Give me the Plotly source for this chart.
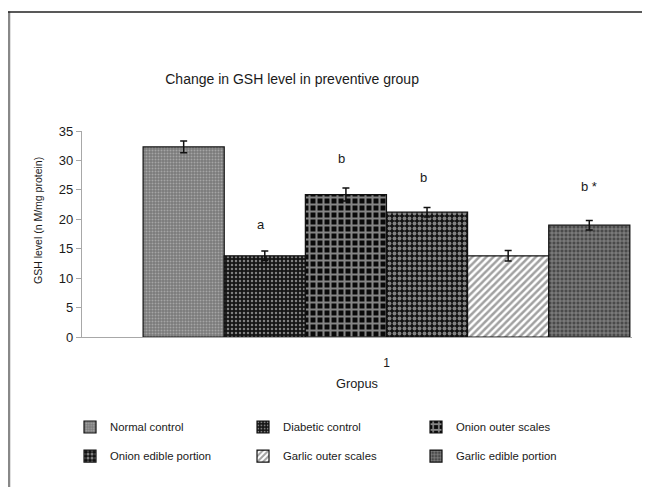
import plotly.graph_objects as go

# ---- data ----
groups = ["Normal control", "Diabetic control", "Onion outer scales",
          "Onion edible portion", "Garlic outer scales", "Garlic edible portion"]
category = ["1"]
gsh_values = [32.3, 13.8, 24.2, 21.2, 13.8, 19.0]
gsh_errors = [1.0, 0.8, 1.1, 0.8, 0.9, 0.8]
sig_labels = ["", "a", "b", "b", "", "b *"]
sig_label_y = [None, 19.1, 30.4, 27.1, None, 25.5]

# ---- styles ----
patterns = [
    dict(shape=".", bgcolor="#7a7a7a", fgcolor="#cfcfcf", size=3, solidity=0.35),
    dict(shape=".", bgcolor="#151515", fgcolor="#e8e8e8", size=4, solidity=0.3),
    dict(shape="+", bgcolor="#0a0a0a", fgcolor="#ffffff", size=7, solidity=0.5),
    dict(shape=".", bgcolor="#111111", fgcolor="#f2f2f2", size=5, solidity=0.45),
    dict(shape="/", bgcolor="#ffffff", fgcolor="#444444", size=5, solidity=0.5),
    dict(shape="+", bgcolor="#4a4a4a", fgcolor="#e0e0e0", size=4, solidity=0.35),
]
FONT = "Liberation Sans, Arial, sans-serif"
TXT = "#1a1a1a"

fig = go.Figure()
for i, name in enumerate(groups):
    fig.add_trace(go.Bar(
        x=category, y=[gsh_values[i]], name=name,
        marker=dict(pattern=patterns[i], line=dict(color="#111111", width=1.2)),
        error_y=dict(type="data", array=[gsh_errors[i]], visible=True,
                     color="#111111", thickness=1.5, width=3.5),
        legend="legend" if i < 3 else "legend2",
    ))

bargap = 0.115
x_range = [-0.5536, 0.4464]
group_w = 1 - bargap
bar_w = group_w / len(groups)

annotations = []
for i, (lab, ly) in enumerate(zip(sig_labels, sig_label_y)):
    if lab:
        annotations.append(dict(
            x=-group_w / 2 + bar_w * (i + 0.5), y=ly, xref="x", yref="y",
            text=lab, showarrow=False, xshift=-4 if len(lab) == 1 else 0,
            font=dict(family=FONT, size=13, color=TXT)))
annotations.append(dict(
    x=-0.08, y=0.563, xref="paper", yref="paper", text="GSH level (n M/mg protein)",
    textangle=-90, showarrow=False, xanchor="center", yanchor="middle",
    font=dict(family=FONT, size=10.5, color=TXT)))

shapes = [
    dict(type="line", xref="paper", yref="paper", x0=-0.1327, x1=-0.1327,
         y0=1.58, y1=-0.8, line=dict(color="#888888", width=2.5)),
    dict(type="line", xref="paper", yref="paper", x0=-0.135, x1=1.06,
         y0=1.578, y1=1.578, line=dict(color="#222222", width=1.5)),
]

legend_common = dict(orientation="h", xanchor="left", yanchor="middle",
                     entrywidthmode="pixels", entrywidth=128, itemwidth=30,
                     font=dict(family=FONT, size=11.3, color=TXT),
                     bgcolor="rgba(0,0,0,0)", traceorder="normal")

fig.update_layout(
    width=650, height=487,
    margin=dict(l=74, r=26, t=123, b=158),
    paper_bgcolor="white", plot_bgcolor="white",
    barmode="group", bargap=bargap,
    showlegend=True,
    title=dict(text="Change in GSH level in preventive group", x=0.382, xref="paper",
               xanchor="center", y=1 - 71 / 487, yref="container", yanchor="middle",
               font=dict(family=FONT, size=14, color=TXT)),
    xaxis=dict(type="category", range=x_range, showline=True, linecolor="#a8a8a8",
               linewidth=1.2, ticks="", showgrid=False, automargin=False,
               ticklabelstandoff=14,
               tickfont=dict(family=FONT, size=12, color=TXT),
               title=dict(text="Gropus", standoff=10,
                          font=dict(family=FONT, size=12.8, color=TXT))),
    yaxis=dict(range=[0, 35], dtick=5, showline=True, linecolor="#a8a8a8",
               linewidth=1.2, ticks="outside", ticklen=5, tickcolor="#a8a8a8",
               showgrid=False, zeroline=False, automargin=False,
               tickfont=dict(family=FONT, size=13, color=TXT)),
    legend=dict(x=-0.0218, y=-0.437, **legend_common),
    legend2=dict(x=-0.0218, y=-0.578, **legend_common),
    annotations=annotations,
    shapes=shapes,
)

fig.write_html("out.html")
